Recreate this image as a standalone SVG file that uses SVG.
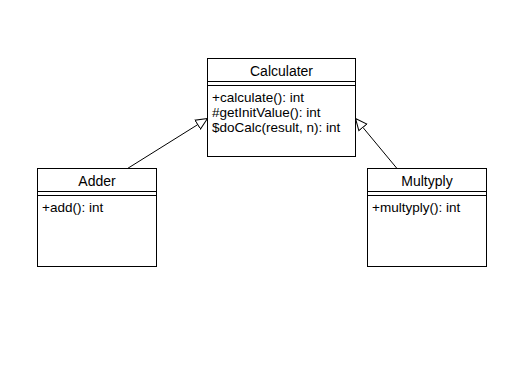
<svg xmlns="http://www.w3.org/2000/svg" width="527" height="375" viewBox="0 0 527 375">
  <style>
    .box { fill: #ffffff; stroke: #000000; stroke-width: 1; }
    .sep { stroke: #000000; stroke-width: 1; fill: none; }
    .title { font-family: "Liberation Sans", Arial, sans-serif; font-size: 14px; fill: #000000; text-anchor: middle; }
    .member { font-family: "Liberation Sans", Arial, sans-serif; font-size: 13.5px; fill: #000000; }
    .edge { stroke: #000000; stroke-width: 1; fill: none; }
  </style>
  <defs>
    <!-- hollow triangle for generalization -->
    <marker id="inherit" markerUnits="userSpaceOnUse" markerWidth="14" markerHeight="14" viewBox="-12 -6 14 12" refX="0" refY="0" orient="auto">
      <path d="M0,0 L-11.5,-5.2 L-11.5,5.2 Z" fill="#ffffff" stroke="#000000" stroke-width="1"/>
    </marker>
  </defs>
  <rect width="527" height="375" fill="#ffffff"/>

  <g id="connectors">
    <line class="edge" x1="127.5" y1="168.5" x2="207.5" y2="118.5" marker-end="url(#inherit)"/>
    <line class="edge" x1="397" y1="168.5" x2="355.5" y2="118.5" marker-end="url(#inherit)"/>
  </g>

  <g id="calculater">
    <rect class="box" x="207.5" y="58.5" width="148" height="98"/>
    <line class="sep" x1="207.5" y1="81.5" x2="355.5" y2="81.5"/>
    <line class="sep" x1="207.5" y1="85.5" x2="355.5" y2="85.5"/>
    <text class="title" x="281.5" y="76">Calculater</text>
    <text class="member" x="212" y="101.5">+calculate(): int</text>
    <text class="member" x="212" y="116.5">#getInitValue(): int</text>
    <text class="member" x="212" y="131.5">$doCalc(result, n): int</text>
  </g>

  <g id="adder">
    <rect class="box" x="37.5" y="168.5" width="119" height="98"/>
    <line class="sep" x1="37.5" y1="191.5" x2="156.5" y2="191.5"/>
    <line class="sep" x1="37.5" y1="195.5" x2="156.5" y2="195.5"/>
    <text class="title" x="97" y="186">Adder</text>
    <text class="member" x="42" y="211.5">+add(): int</text>
  </g>

  <g id="multyply">
    <rect class="box" x="367.5" y="168.5" width="119" height="98"/>
    <line class="sep" x1="367.5" y1="191.5" x2="486.5" y2="191.5"/>
    <line class="sep" x1="367.5" y1="195.5" x2="486.5" y2="195.5"/>
    <text class="title" x="427" y="186">Multyply</text>
    <text class="member" x="372" y="211.5">+multyply(): int</text>
  </g>
</svg>
